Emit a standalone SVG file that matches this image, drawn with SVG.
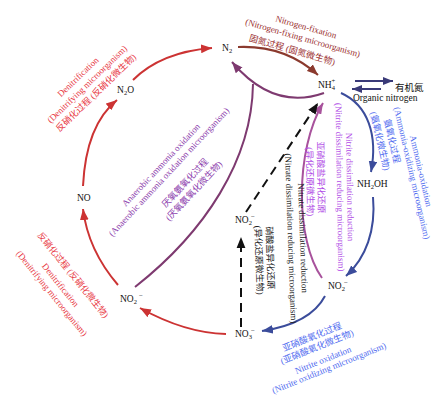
<svg xmlns="http://www.w3.org/2000/svg" width="441" height="395" viewBox="0 0 441 395">
<style>
.node{font-family:"Liberation Serif","Noto Sans CJK SC",serif;font-size:9.5px;fill:#111}
.lbl{font-family:"Liberation Serif","Noto Sans CJK SC",serif;font-size:9px;text-anchor:middle}
.red{fill:#e8373f}.brown{fill:#9b2f2f}.plum{fill:#8e3fae}.violet{fill:#b04be6}.blue{fill:#4f6bef}.blk{fill:#222}
.c{fill:none;stroke-width:2}
</style>
<defs>
<marker id="mRed" viewBox="0 0 10 8" refX="10" refY="4" markerWidth="11" markerHeight="9" markerUnits="userSpaceOnUse" orient="auto"><path d="M0,0L10,4L0,8z" fill="#cc3333"/></marker>
<marker id="mBrown" viewBox="0 0 10 8" refX="10" refY="4" markerWidth="11" markerHeight="9" markerUnits="userSpaceOnUse" orient="auto"><path d="M0,0L10,4L0,8z" fill="#8b3a2e"/></marker>
<marker id="mPlum" viewBox="0 0 10 8" refX="10" refY="4" markerWidth="11" markerHeight="9" markerUnits="userSpaceOnUse" orient="auto"><path d="M0,0L10,4L0,8z" fill="#7e3a70"/></marker>
<marker id="mMauve" viewBox="0 0 10 8" refX="10" refY="4" markerWidth="11" markerHeight="9" markerUnits="userSpaceOnUse" orient="auto"><path d="M0,0L10,4L0,8z" fill="#a8529c"/></marker>
<marker id="mBlue" viewBox="0 0 10 8" refX="10" refY="4" markerWidth="11" markerHeight="9" markerUnits="userSpaceOnUse" orient="auto"><path d="M0,0L10,4L0,8z" fill="#3b4c9b"/></marker>
<marker id="mBlack" viewBox="0 0 10 8" refX="10" refY="4" markerWidth="11" markerHeight="10" markerUnits="userSpaceOnUse" orient="auto"><path d="M0,0L10,4L0,8z" fill="#111"/></marker>
<marker id="mNavy" viewBox="0 0 10 8" refX="10" refY="4" markerWidth="11" markerHeight="8" markerUnits="userSpaceOnUse" orient="auto"><path d="M0,0L10,4L0,8z" fill="#3a3a78"/></marker>
</defs>
<g id="connectors">
<path class="c" stroke="#cc3333" d="M133,80 Q161,52 212,48" marker-end="url(#mRed)"/>
<path class="c" stroke="#cc3333" d="M83,186 Q86,125 117,100" marker-end="url(#mRed)"/>
<path class="c" stroke="#cc3333" d="M118,285 Q88,250 83,209" marker-end="url(#mRed)"/>
<path class="c" stroke="#cc3333" d="M226,334 Q185,333 140,308" marker-end="url(#mRed)"/>
<path class="c" stroke="#8b3a2e" d="M238,47 Q285,45 318,75" marker-end="url(#mBrown)"/>
<path class="c" stroke="#7e3a70" d="M324,93 C290,105 260,95 232,62" marker-end="url(#mPlum)"/>
<path class="c" stroke="#7e3a70" d="M135,287 C205,232 252,160 253,84"/>
<path class="c" stroke="#a8529c" d="M322,278 C295,240 295,150 323,103" marker-end="url(#mMauve)"/>
<path class="c" stroke="#3b4c9b" d="M341,93 C368,105 378,135 371,172" marker-end="url(#mBlue)"/>
<path class="c" stroke="#3b4c9b" d="M373,197 C376,230 366,258 346,276" marker-end="url(#mBlue)"/>
<path class="c" stroke="#3b4c9b" d="M325,296 C315,315 295,326 262,331" marker-end="url(#mBlue)"/>
<path class="c" stroke="#111" stroke-width="2.5" stroke-dasharray="9 6" d="M241,327 L241,237" marker-end="url(#mBlack)"/>
<path class="c" stroke="#111" stroke-width="2.5" stroke-dasharray="9 6" d="M246,212 L318,103" marker-end="url(#mBlack)"/>
<path class="c" stroke="#3a3a78" stroke-width="1.6" d="M355,81 L393,81" marker-end="url(#mNavy)"/>
<path class="c" stroke="#3a3a78" stroke-width="1.6" d="M381,89 L352,89" marker-end="url(#mNavy)"/>
</g>
<g id="n2"><text class="node" x="222" y="51">N<tspan dy="2" font-size="6.5">2</tspan></text></g>
<g id="n2o"><text class="node" x="117" y="93">N<tspan dy="2" font-size="6.5">2</tspan><tspan dy="-2">O</tspan></text></g>
<g id="no"><text class="node" x="77" y="201">NO</text></g>
<g id="no2-left"><text class="node" x="120" y="302">NO<tspan dy="2" font-size="6.5">2</tspan><tspan dx="2" dy="-6" font-size="7">−</tspan></text></g>
<g id="no3"><text class="node" x="235" y="337">NO<tspan dy="2" font-size="6.5">3</tspan><tspan dx="-1" dy="-6" font-size="7">−</tspan></text></g>
<g id="no2-mid"><text class="node" x="235" y="223">NO<tspan dy="2" font-size="6.5">2</tspan><tspan dx="-1" dy="-6" font-size="7">−</tspan></text></g>
<g id="no2-right"><text class="node" x="328" y="289">NO<tspan dy="2" font-size="6.5">2</tspan><tspan dx="-1" dy="-6" font-size="7">−</tspan></text></g>
<g id="nh2oh"><text class="node" x="357" y="187">NH<tspan dy="2" font-size="6.5">2</tspan><tspan dy="-2">OH</tspan></text></g>
<g id="nh4"><text class="node" x="318" y="88">NH<tspan dy="2" font-size="6.5">4</tspan><tspan dx="-3.5" dy="-7" font-size="6.5">+</tspan></text></g>
<g id="organic-n">
<text class="node" x="395" y="91" font-size="10">有机氮</text>
<text class="node" x="353" y="101">Organic nitrogen</text>
</g>
<g id="lbl-denit-top" transform="translate(78,77) rotate(-44)">
<text class="lbl red" y="3">Denitrification</text>
<text class="lbl red" x="1.6" y="14.5">(Denitrifying microorganism)</text>
<text class="lbl red" x="2" y="27">反硝化过程 (反硝化微生物)</text>
</g>
<g id="lbl-denit-bottom" transform="translate(73,275) rotate(51)">
<text class="lbl red" y="3">反硝化过程 (反硝化微生物)</text>
<text class="lbl red" y="19">Denitrification</text>
<text class="lbl red" x="1" y="31">(Denitrifying microorganism)</text>
</g>
<g id="lbl-anammox" transform="translate(161,165) rotate(-47)">
<text class="lbl plum" y="3">Anaerobic ammonia oxidation</text>
<text class="lbl plum" x="0.3" y="13.6">(Anaerobic ammonia oxidation microorganism)</text>
<text class="lbl plum" x="3.2" y="32.8">厌氧氨氧化过程</text>
<text class="lbl plum" x="3.5" y="44.8">(厌氧氨氧化微生物)</text>
</g>
<g id="lbl-nfix" transform="translate(306,27) rotate(16)">
<text class="lbl brown" y="3">Nitrogen-fixation</text>
<text class="lbl brown" y="14.4">(Nitrogen-fixing microorganism)</text>
<text class="lbl brown" x="-7" y="29">固氮过程 (固氮微生物)</text>
</g>
<g id="lbl-amox" transform="translate(421,171) rotate(77)">
<text class="lbl blue" y="3">Ammonia-oxidation</text>
<text class="lbl blue" y="12.2">(Ammonia-oxidizing microorganism)</text>
<text class="lbl blue" x="-35.7" y="24.5" font-size="8.5">氨氧化过程</text>
<text class="lbl blue" x="-38.4" y="36.2" font-size="8.5">(氨氧化微生物)</text>
</g>
<g id="lbl-nitox" transform="translate(312,337) rotate(-22)">
<text class="lbl blue" y="3">亚硝酸氧化过程</text>
<text class="lbl blue" x="0.9" y="14.2">(亚硝酸氧化微生物)</text>
<text class="lbl blue" x="1.6" y="28.4">Nitrite oxidation</text>
<text class="lbl blue" x="4.2" y="38.1">(Nitrite oxidizing microorganism)</text>
</g>
<g id="lbl-nitrite-dissim" transform="translate(350,187) rotate(89)">
<text class="lbl violet" y="3">Nitrite dissimilation reduction</text>
<text class="lbl violet" y="13">(Nitrite dissimilation reducing microorganism)</text>
<text class="lbl violet" x="-10" y="32" font-size="8.5">亚硝酸盐异化还原</text>
<text class="lbl violet" x="-6" y="43" font-size="8.5">(异化还原微生物)</text>
</g>
<g id="lbl-nitrate-dissim" transform="translate(303,238) rotate(88)">
<text class="lbl blk" y="3">Nitrate dissimilation reduction</text>
<text class="lbl blk" y="15">(Nitrate dissimilation reducing microorganism)</text>
<text class="lbl blk" x="18.8" y="36.7" font-size="8.5">硝酸盐异化还原</text>
<text class="lbl blk" x="20.5" y="47.8" font-size="8.5">(异化还原微生物)</text>
</g>
</svg>
